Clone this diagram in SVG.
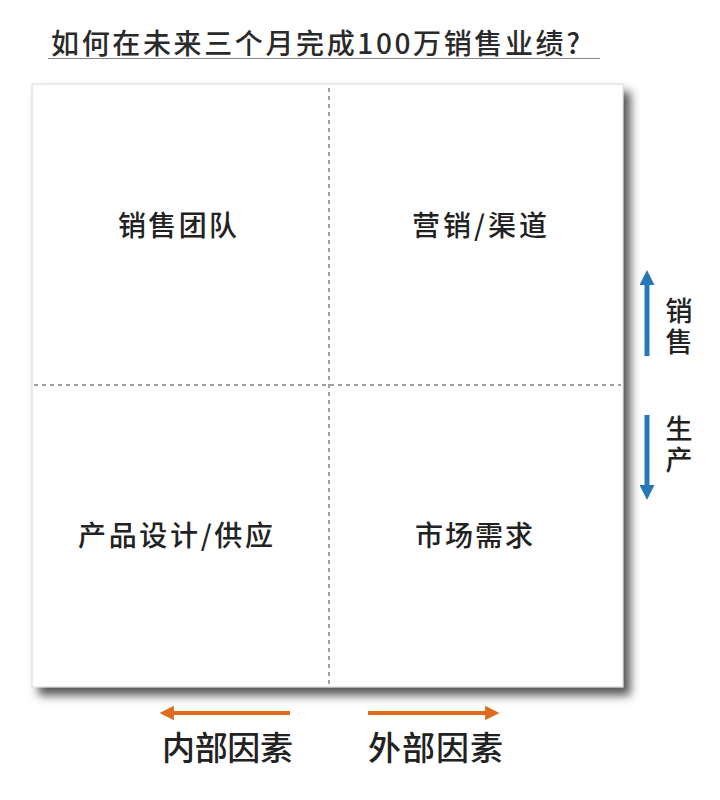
<svg xmlns="http://www.w3.org/2000/svg" width="720" height="800" viewBox="0 0 720 800">
  <defs>
    <style>
      text { font-family: "Noto Sans CJK SC", "Noto Sans", sans-serif; fill: #222; font-weight: 500; }
      .title { font-size: 28px; fill: #2a2a2a; }
      .quad { font-size: 28px; text-anchor: middle; }
      .side { font-size: 27px; writing-mode: vertical-rl; letter-spacing: 4px; }
      .axis { font-size: 33px; text-anchor: middle; }
      .divider { stroke: #444; stroke-width: 1; stroke-dasharray: 4 4; fill: none; }
      .blue { stroke: #2878b8; stroke-width: 5; fill: none; }
      .orange { stroke: #e06a1e; stroke-width: 4; fill: none; }
    </style>
    <filter id="shadow" x="-5%" y="-5%" width="115%" height="115%">
      <feDropShadow dx="7" dy="8" stdDeviation="5" flood-color="#3a3a3a" flood-opacity="0.85"/>
    </filter>
    <marker id="blueHead" viewBox="0 0 10 10" refX="2" refY="5" markerWidth="3" markerHeight="3" orient="auto" markerUnits="strokeWidth">
      <path d="M0,0 L10,5 L0,10 Z" fill="#2878b8"/>
    </marker>
    <marker id="orangeHead" viewBox="0 0 10 10" refX="2" refY="5" markerWidth="3.6" markerHeight="3.6" orient="auto" markerUnits="strokeWidth">
      <path d="M0,0 L10,5 L0,10 Z" fill="#e06a1e"/>
    </marker>
  </defs>

  <rect width="720" height="800" fill="#ffffff"/>

  <g id="title">
    <text class="title" x="51" y="54" textLength="529" lengthAdjust="spacing">如何在未来三个月完成100万销售业绩?</text>
    <line x1="48" y1="58.5" x2="600" y2="58.5" stroke="#888" stroke-width="1.2"/>
  </g>

  <g id="matrix">
    <rect x="32" y="84" width="591" height="603" fill="#ffffff" stroke="#d8d8d8" stroke-width="1" filter="url(#shadow)"/>
  </g>

  <g id="connectors">
    <line class="divider" x1="329" y1="88" x2="329" y2="685"/>
    <line class="divider" x1="34" y1="385" x2="621" y2="385"/>
    <line class="blue" x1="647" y1="356" x2="647" y2="282" marker-end="url(#blueHead)"/>
    <line class="blue" x1="647" y1="415" x2="647" y2="488" marker-end="url(#blueHead)"/>
    <line class="orange" x1="290" y1="713" x2="171" y2="713" marker-end="url(#orangeHead)"/>
    <line class="orange" x1="368" y1="713" x2="488" y2="713" marker-end="url(#orangeHead)"/>
  </g>

  <g id="q-sales-team">
    <text class="quad" x="177.5" y="236" textLength="119" lengthAdjust="spacing">销售团队</text>
  </g>
  <g id="q-marketing">
    <text class="quad" x="479.5" y="236" textLength="135" lengthAdjust="spacing">营销/渠道</text>
  </g>
  <g id="q-product">
    <text class="quad" x="175.5" y="546" textLength="195" lengthAdjust="spacing">产品设计/供应</text>
  </g>
  <g id="q-market">
    <text class="quad" x="474" y="546" textLength="118" lengthAdjust="spacing">市场需求</text>
  </g>

  <g id="label-sales">
    <text class="side" x="679" y="297">销售</text>
  </g>
  <g id="label-production">
    <text class="side" x="679" y="415">生产</text>
  </g>

  <g id="label-internal">
    <text class="axis" x="227.5" y="760" textLength="131" lengthAdjust="spacing">内部因素</text>
  </g>
  <g id="label-external">
    <text class="axis" x="435.5" y="760" textLength="135" lengthAdjust="spacing">外部因素</text>
  </g>
</svg>
